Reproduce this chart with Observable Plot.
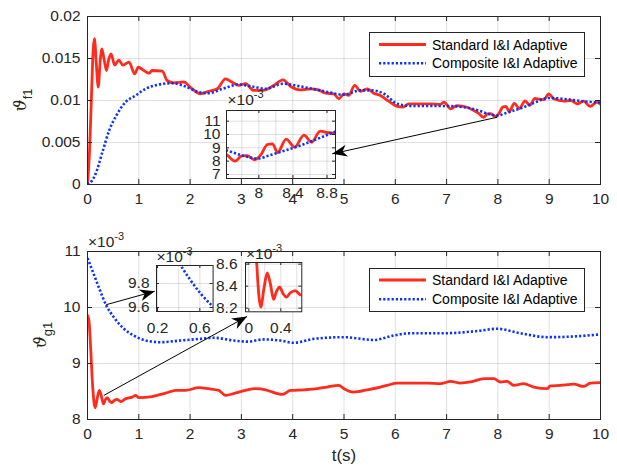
<!DOCTYPE html>
<html><head><meta charset="utf-8">
<script src="https://cdn.jsdelivr.net/npm/d3@7"></script>
<script src="https://cdn.jsdelivr.net/npm/@observablehq/plot@0.6"></script>
<style>
html,body{margin:0;padding:0;background:#fff}
#wrap{position:relative;width:617px;height:471px;overflow:hidden;background:#fff}
#wrap > svg{position:absolute;overflow:visible}
</style></head><body><div id="wrap"></div>
<script>
// ---------------- data (values in units of 1e-3) ----------------
const f1StdT = [0,0.04,0.08,0.11,0.136,0.17,0.21,0.245,0.28,0.32,0.37,0.41,0.46,0.53,0.61,0.69,0.81,0.92,0.99,1.1,1.2,1.26,1.46,1.55,1.68,1.88,2.0,2.2,2.36,2.53,2.69,2.82,2.95,3.08,3.24,3.37,3.47,3.63,3.81,3.96,4.15,4.35,4.5,4.64,4.8,4.9,5.0,5.09,5.21,5.32,5.46,5.58,5.71,5.87,6.04,6.15,6.26,6.49,6.69,6.88,6.95,7.08,7.2,7.4,7.53,7.62,7.72,7.8,7.86,7.95,8.02,8.1,8.16,8.22,8.32,8.42,8.53,8.62,8.72,8.8,8.9,8.99,9.09,9.29,9.42,9.55,9.67,9.8,9.93,10];
const f1StdV = [0,4,11,16,17.35,14.5,11.6,14.5,16.15,15.0,13.57,14.8,15.55,14.2,14.8,14.2,14.56,13.17,13.96,13.57,13.25,13.57,13.5,12.38,12.1,12.2,11.6,10.8,11.1,11.4,12.58,12.18,11.8,12.0,11.2,11.2,11.27,11.79,12.46,11.67,11.27,11.39,11.27,10.87,10.8,10.2,10.8,10.6,11.79,11.1,11.39,10.87,10.6,9.92,9.29,9.2,9.6,9.6,9.6,9.55,9.8,9.0,9.4,9.2,8.8,8.5,8.0,8.4,8.42,8.1,8.45,9.25,9.3,8.65,9.65,9.05,9.95,9.42,10.25,10.15,10.1,10.8,10.2,9.92,10.0,9.6,9.92,9.29,9.8,9.55];
const f1CompT = [0,0.08,0.16,0.29,0.42,0.58,0.74,0.94,1.13,1.39,1.65,1.91,2.17,2.36,2.63,2.95,3.21,3.47,3.81,4.15,4.54,5.0,5.32,5.55,5.78,6.04,6.3,6.95,7.34,7.6,7.82,7.99,8.13,8.31,8.5,8.7,8.99,9.35,9.67,10];
const f1CompV = [0,0.4,1.3,3.85,6.4,8.4,9.8,10.6,11.39,11.9,12.06,11.67,10.99,10.87,11.39,11.9,11.67,11.39,12.0,11.67,11.2,10.7,11.2,11.2,10.8,9.6,9.35,9.35,9.2,8.85,8.4,8.2,8.45,8.8,9.2,9.7,10.3,10.15,9.9,9.75];

const g1StdT = [0,0.03,0.06,0.1,0.15,0.19,0.23,0.27,0.31,0.345,0.385,0.43,0.47,0.52,0.58,0.65,0.74,0.87,0.94,1.0,1.26,1.52,1.72,1.91,2.17,2.36,2.56,2.69,2.88,3.08,3.27,3.47,3.57,3.8,3.96,4.22,4.48,4.67,4.9,5.0,5.19,5.45,5.71,5.84,6.04,6.3,6.62,6.88,7.08,7.27,7.47,7.73,7.92,8.05,8.18,8.31,8.5,8.7,8.96,9.02,9.22,9.48,9.67,9.8,10];
const g1StdV = [9.86,9.75,9.3,8.6,8.21,8.38,8.52,8.42,8.28,8.35,8.39,8.33,8.3,8.34,8.36,8.32,8.37,8.4,8.43,8.39,8.41,8.47,8.52,8.52,8.57,8.55,8.52,8.43,8.47,8.52,8.55,8.53,8.5,8.45,8.52,8.53,8.55,8.58,8.61,8.55,8.49,8.53,8.58,8.61,8.65,8.65,8.65,8.64,8.68,8.65,8.67,8.73,8.73,8.67,8.68,8.61,8.64,8.58,8.55,8.6,8.61,8.63,8.59,8.65,8.66];
const g1CompT = [0,0.12,0.22,0.37,0.51,0.71,0.9,1.1,1.42,1.81,2.2,2.46,2.85,3.11,3.44,3.76,4.02,4.41,5.0,5.58,5.97,6.3,6.95,7.6,7.99,8.44,8.96,9.42,10];
const g1CompV = [10.88,10.6,10.36,10.03,9.83,9.62,9.5,9.42,9.38,9.41,9.44,9.46,9.41,9.39,9.43,9.41,9.37,9.44,9.47,9.42,9.5,9.54,9.54,9.58,9.62,9.54,9.47,9.48,9.52];

const seriesNames = ["Standard I&I Adaptive", "Composite I&I Adaptive"];
const xTicks = [0,1,2,3,4,5,6,7,8,9,10];
const f1Ticks = [0,5,10,15,20];
const g1Ticks = [8,9,10,11];
const f1InsetXTicks = [8,8.4,8.8], f1InsetXGrid = [7.8,8,8.2,8.4,8.6,8.8], f1InsetYTicks = [7,8,9,10,11];
const gInsetAXTicks = [0.2,0.6], gInsetAXGrid = [0.2,0.4,0.6], gInsetAYTicks = [9.6,9.8];
const gInsetBXTicks = [0,0.4], gInsetBXGrid = [0,0.2,0.4,0.6], gInsetBYTicks = [8.2,8.4,8.6];
const f1ArrowStart = [[7.99, 8.01]], f1ArrowEnd = [[4.77, 3.65]];
const g1ArrowStart = [[0.365, 10.05],[0.318, 8.43]], g1ArrowEnd = [[1.31, 10.29],[3.11, 9.84]];

// ---------------- helpers ----------------
const RED = "#ff2b1c", BLUE = "#0b31ff", INK = "#262626", DOT = "2.2,2";
const FONT = '"Liberation Sans", Arial, Helvetica, sans-serif';
const wrap = document.getElementById("wrap");
const rows = (ts, vs) => ts.map((t, i) => ({t, v: vs[i]}));
const fmt = d => String(d);
function place(node, left, top) { node.style.left = left + "px"; node.style.top = top + "px"; wrap.appendChild(node); return node; }

function panel(o) {
  const iw = o.width - o.ml - o.mr, ih = o.height - o.mt - o.mb, tk = o.tick ?? 5;
  const svg = Plot.plot({
    width: o.width, height: o.height,
    marginLeft: o.ml, marginRight: o.mr, marginTop: o.mt, marginBottom: o.mb,
    x: {domain: o.xd, label: null}, y: {domain: o.yd, label: null},
    style: {fontFamily: FONT, fontSize: "15.5px", color: INK, background: "transparent", overflow: "visible"},
    marks: [
      o.fill ? Plot.frame({fill: "white", stroke: null}) : null,
      Plot.ruleX(o.xg ?? o.xt, {stroke: INK, strokeOpacity: 0.15}),
      Plot.ruleY(o.yg ?? o.yt, {stroke: INK, strokeOpacity: 0.15}),
      ...o.series.map(s => Plot.line(s.data, {x: "t", y: "v", stroke: s.color, strokeWidth: s.width, curve: "monotone-x", clip: true})),
      Plot.ruleX(o.xt, {stroke: INK, insetTop: ih - tk}),
      Plot.ruleX(o.xt, {stroke: INK, insetBottom: ih - tk}),
      Plot.ruleY(o.yt, {stroke: INK, insetRight: iw - tk}),
      Plot.ruleY(o.yt, {stroke: INK, insetLeft: iw - tk}),
      Plot.axisX({ticks: o.xt, tickSize: 0, tickPadding: o.xpad ?? 8, tickFormat: o.xf ?? fmt, fill: INK}),
      Plot.axisY({ticks: o.yt, tickSize: 0, tickPadding: o.ypad ?? 7, tickFormat: o.yf ?? fmt, fill: INK}),
      Plot.frame({stroke: INK}),
      ...(o.extra ?? [])
    ]
  });
  d3.select(svg).selectAll(`[stroke="${BLUE}"]`).attr("stroke-dasharray", DOT).attr("stroke-linecap", "butt");
  return svg;
}
function expLabel(svg, x, y) {
  const t = d3.select(svg).append("text").attr("x", x).attr("y", y).attr("fill", INK)
    .attr("text-anchor", "start").attr("font-family", FONT).attr("font-size", 15.5);
  t.append("tspan").text("×10");
  t.append("tspan").attr("dy", -7).attr("font-size", 11).text("-3");
}
function yLabel(svg, x, y, sub) {
  const t = d3.select(svg).append("text").attr("transform", `translate(${x},${y}) rotate(-90)`)
    .attr("text-anchor", "middle").attr("fill", INK).attr("font-size", 17);
  t.append("tspan").attr("font-family", "DejaVu Serif").attr("font-style", "italic").text("ϑ");
  t.append("tspan").attr("font-family", FONT).attr("font-size", 13).attr("dy", 6).text(sub);
}
function arrows(o, starts, ends) {
  const data = starts.map((s, i) => ({x1: s[0], y1: s[1], x2: ends[i][0], y2: ends[i][1]}));
  const svg = Plot.plot({
    width: o.width, height: o.height, marginLeft: o.ml, marginRight: o.mr, marginTop: o.mt, marginBottom: o.mb,
    x: {domain: o.xd, axis: null}, y: {domain: o.yd, axis: null},
    style: {background: "transparent", overflow: "visible"},
    marks: [Plot.link(data, {x1: "x1", y1: "y1", x2: "x2", y2: "y2", stroke: "#000", strokeWidth: 1})]
  });
  const id = "ah" + Math.random().toString(36).slice(2, 8);
  const m = d3.select(svg).append("defs").append("marker").attr("id", id)
    .attr("viewBox", "-16 -7 17 14").attr("refX", 0).attr("refY", 0)
    .attr("markerWidth", 17).attr("markerHeight", 14).attr("markerUnits", "userSpaceOnUse").attr("orient", "auto");
  m.append("path").attr("d", "M0,0 L-15,-6 L-10.5,0 L-15,6 Z").attr("fill", "#000");
  d3.select(svg).selectAll('g[aria-label="link"] path').attr("marker-end", `url(#${id})`);
  return svg;
}
function legend(left, top, w, h, ys) {
  const svg = d3.create("svg").attr("width", w + 1).attr("height", h + 1);
  svg.append("rect").attr("x", 0.5).attr("y", 0.5).attr("width", w).attr("height", h).attr("fill", "white").attr("stroke", INK);
  const styles = [{color: RED, width: 2.8, dash: null}, {color: BLUE, width: 2.6, dash: DOT}];
  seriesNames.forEach((name, i) => {
    svg.append("line").attr("x1", 10).attr("x2", 57).attr("y1", ys[i]).attr("y2", ys[i])
      .attr("stroke", styles[i].color).attr("stroke-width", styles[i].width).attr("stroke-dasharray", styles[i].dash);
    svg.append("text").attr("x", 63).attr("y", ys[i]).attr("dy", "0.36em").attr("font-family", FONT)
      .attr("font-size", 14).attr("fill", "#000").text(name);
  });
  place(svg.node(), left, top);
}

const f1Std = rows(f1StdT, f1StdV), f1Comp = rows(f1CompT, f1CompV);
const g1Std = rows(g1StdT, g1StdV), g1Comp = rows(g1CompT, g1CompV);
const sStd = d => ({data: d, color: RED, width: 2.8});
const sComp = d => ({data: d, color: BLUE, width: 2.6});

// ---------------- top panel ----------------
const topO = {width: 617, height: 205, ml: 87, mr: 17, mt: 16, mb: 21, xd: [0, 10], yd: [0, 20],
  xt: xTicks, yt: f1Ticks, yf: d => String(d / 1000), series: [sStd(f1Std), sComp(f1Comp)]};
const topSvg = place(panel(topO), 0, 0);
yLabel(topSvg, 25.5, 100, "f1");

const tiO = {width: 155, height: 118, ml: 40, mr: 6, mt: 22, mb: 28, xd: [7.62, 8.9], yd: [6.7, 11.8],
  xt: f1InsetXTicks, xg: f1InsetXGrid, yt: f1InsetYTicks, fill: true, tick: 3, ypad: 6,
  series: [sStd(f1Std), sComp(f1Comp)]};
const tiSvg = place(panel(tiO), 226 - 40, 110 - 22);
expLabel(tiSvg, 41.5, 17);
place(arrows(topO, f1ArrowStart, f1ArrowEnd), 0, 0);
legend(369, 32, 215, 44, [12.5, 31.3]);

// ---------------- bottom panel ----------------
const botO = {width: 617, height: 251, ml: 87, mr: 17, mt: 31, mb: 52, xd: [0, 10], yd: [8, 11],
  xt: xTicks, yt: g1Ticks, series: [sStd(g1Std), sComp(g1Comp)],
  extra: [Plot.text(["t(s)"], {frameAnchor: "bottom", dy: 41, fontSize: 17, fill: INK})]};
const botSvg = place(panel(botO), 0, 220);
yLabel(botSvg, 45.5, 115, "g1");
expLabel(botSvg, 88, 26.7);

const iaO = {width: 35 + 56.6 + 4, height: 20 + 46 + 28, ml: 35, mr: 4, mt: 20, mb: 28, xd: [0.19, 0.725], yd: [9.567, 9.95],
  xt: gInsetAXTicks, xg: gInsetAXGrid, yt: gInsetAYTicks, fill: true, tick: 3, xpad: 10,
  series: [sComp(g1Comp)]};
const iaSvg = place(panel(iaO), 155.7 - 35, 265 - 20);
expLabel(iaSvg, 35.5, 16.7);

const ibO = {width: 35 + 56.3 + 4, height: 20 + 49.3 + 28, ml: 35, mr: 4, mt: 20, mb: 28, xd: [-0.041, 0.6625], yd: [8.167, 8.615],
  xt: gInsetBXTicks, xg: gInsetBXGrid, yt: gInsetBYTicks, fill: true, tick: 3, xpad: 10, ypad: 8,
  series: [sStd(g1Std)]};
const ibSvg = place(panel(ibO), 244.7 - 35, 261.7 - 20);
expLabel(ibSvg, 36, 16.6);

place(arrows(botO, g1ArrowStart, g1ArrowEnd), 0, 220);
legend(369, 268, 215, 43, [12, 31.3]);
</script></body></html>
